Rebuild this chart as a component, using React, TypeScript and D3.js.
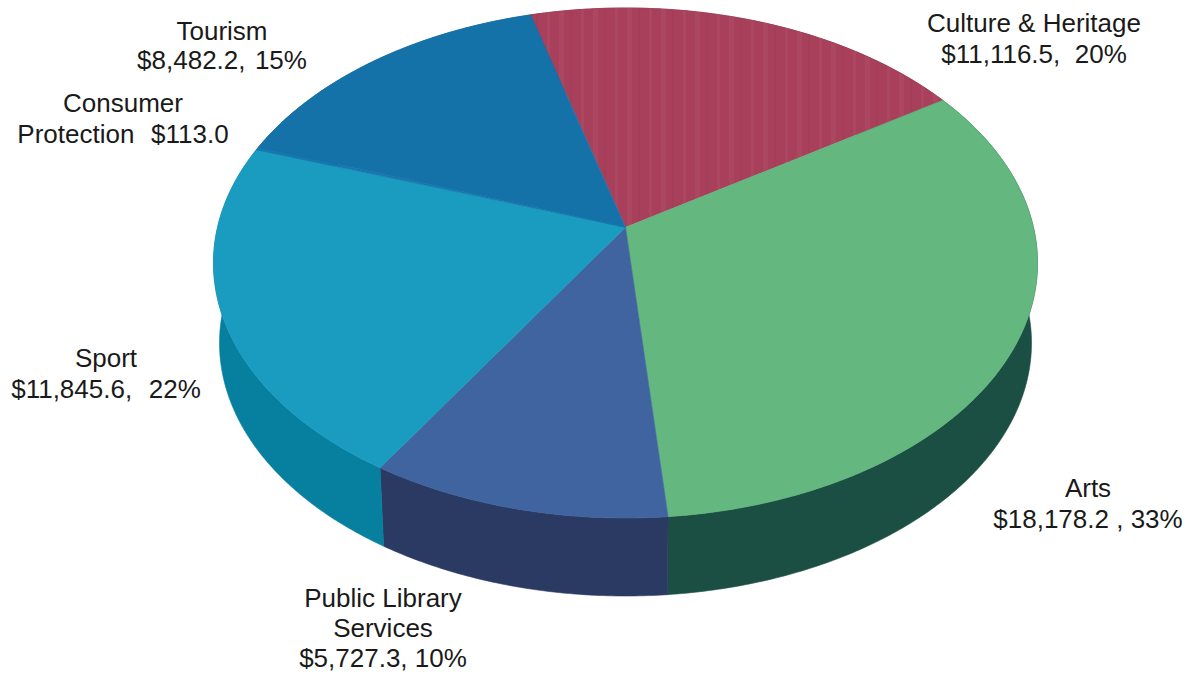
import React from "react";
import * as d3 from "d3";

const categories = ["Culture & Heritage", "Arts", "Public Library Services", "Sport", "Consumer Protection", "Tourism"];
const spending = [11116.5, 18178.2, 5727.3, 11845.6, 113.0, 8482.2];
const topColors = ["#a9405b", "#63b77f", "#40649f", "#1a9cc0", "#1878ae", "#1472a9"];
const sideColors = ["#6b2236", "#1c4f43", "#2b3a63", "#077f9f", "#0b5f8c", "#0b5f8c"];

const labelLines = [
  ["Culture & Heritage", "$11,116.5,\u00a0 20%"],
  ["Arts", "$18,178.2 , 33%"],
  ["Public Library", "Services", "$5,727.3, 10%"],
  ["Sport", "$11,845.6,\u00a0\u200a 22%"],
  ["Consumer", "Protection\u00a0\u200a $113.0"],
  ["Tourism", "$8,482.2,\u200a 15%"],
];

const W = 1190;
const H = 674;
const labelPos: [number, number, number][] = [
  [1034, 32, 31],
  [1088, 497, 31],
  [383, 607, 30],
  [106, 367, 31],
  [123, 112, 31],
  [222, 40, 29],
];

const TOP = { cx: 625.5, cy: 263, rx: 412, ry: 255 };
const BOT = { cx: 625.5, cy: 343, rx: 406, ry: 253 };
const E = 0.14;
const START = (-15.3 * Math.PI) / 180;

type Ell = typeof TOP;
function toPixel(px: number, py: number, el: Ell): [number, number] {
  const sx = d3.scaleLinear().domain([-1, 1]).range([el.cx - el.rx, el.cx + el.rx]);
  const sy = d3.scaleLinear().domain([-1, 1]).range([el.cy + el.ry, el.cy - el.ry]);
  return [sx(px), sy(py)];
}
function project(a: number, el: Ell): [number, number] {
  const X = Math.sin(a), Y = Math.cos(a);
  const d = 1 + E * Y;
  return toPixel((X * Math.sqrt(1 - E * E)) / d, (Y + E) / d, el);
}

function samples(a0: number, a1: number): number[] {
  const n = Math.max(2, Math.ceil((a1 - a0) / 0.01));
  return d3.range(n + 1).map((i) => a0 + ((a1 - a0) * i) / n);
}

const line = d3.line<[number, number]>();

export default function App() {
  const arcs = d3
    .pie<number>()
    .sort(null)
    .startAngle(START)
    .endAngle(START + 2 * Math.PI)(spending);
  const apex = toPixel(0, E, TOP);

  return (
    <svg
      width={W}
      height={H}
      viewBox={`0 0 ${W} ${H}`}
      style={{ position: "absolute", left: 0, top: 0, background: "#fff" }}
    >
      <defs>
        <pattern id="stripes" width="34" height="10" patternUnits="userSpaceOnUse">
          <rect x="3" width="3" height="10" fill="#fff" opacity="0.04" />
          <rect x="15" width="5" height="10" fill="#fff" opacity="0.04" />
          <rect x="26" width="2" height="10" fill="#000" opacity="0.03" />
        </pattern>
      </defs>
      <g>
        {arcs.map((a, i) => {
          const angs = samples(a.startAngle, a.endAngle);
          const upper = angs.map((t) => project(t, TOP));
          const lower = angs.map((t) => project(t, BOT)).reverse();
          return (
            <path
              key={categories[i]}
              d={line([...upper, ...lower]) + "Z"}
              fill={sideColors[i]}
              stroke={sideColors[i]}
              strokeWidth={0.6}
            />
          );
        })}
      </g>
      <g>
        {arcs.map((a, i) => {
          const pts = samples(a.startAngle, a.endAngle).map((t) => project(t, TOP));
          const d = line([apex, ...pts]) + "Z";
          return (
            <g key={categories[i]}>
              <path d={d} fill={topColors[i]} stroke={topColors[i]} strokeWidth={0.6} />
              {i === 0 && <path d={d} fill="url(#stripes)" />}
            </g>
          );
        })}
      </g>
      <g
        fontFamily="'Liberation Sans', Arial, sans-serif"
        fontSize={26}
        fill="#1a1a1a"
        textAnchor="middle"
      >
        {labelLines.map((lines, i) => (
          <text key={categories[i]}>
            {lines.map((l, j) => (
              <tspan key={j} x={labelPos[i][0]} y={labelPos[i][1] + j * labelPos[i][2]}>
                {l}
              </tspan>
            ))}
          </text>
        ))}
      </g>
    </svg>
  );
}
